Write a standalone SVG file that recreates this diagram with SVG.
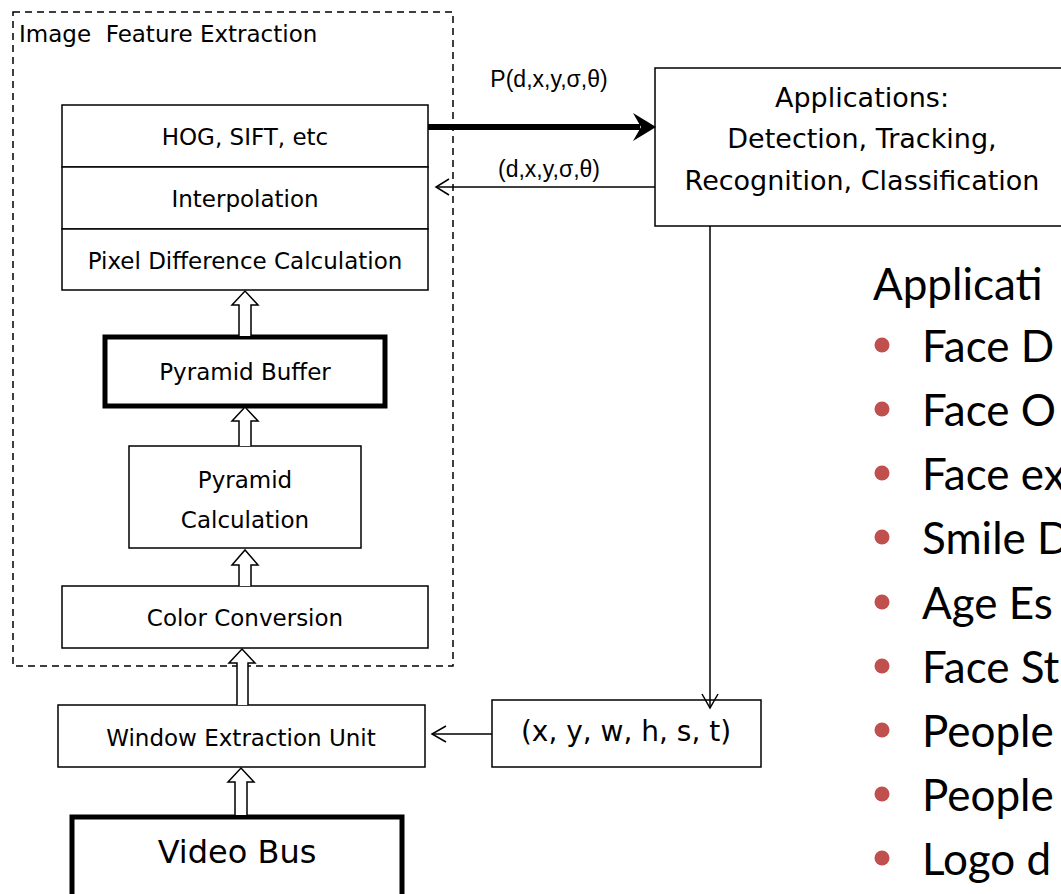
<svg xmlns="http://www.w3.org/2000/svg" width="1061" height="894" viewBox="0 0 1061 894">
<style>
.box{fill:#fff;stroke:#000;stroke-width:1.5}
.thick{fill:#fff;stroke:#000;stroke-width:5}
.lbl{font-family:"DejaVu Sans",sans-serif;font-size:23px;fill:#000;text-anchor:middle}
.big{font-family:"DejaVu Sans",sans-serif;font-size:27px;fill:#000;text-anchor:middle}
.ar{font-family:"Liberation Sans",Arial,sans-serif;font-size:23px;fill:#000;text-anchor:middle}
.hol{fill:#fff;stroke:#000;stroke-width:1.5;stroke-linejoin:miter}
.ln{stroke:#000;stroke-width:1.5;fill:none}
.lst{font-family:Lato,"Open Sans",sans-serif;font-size:44px;fill:#000}
.bul{fill:#C0504D}
</style>
<rect width="1061" height="894" fill="#fff"/>
<g id="feature-extraction-group">
<rect x="13" y="12" width="440" height="654" fill="none" stroke="#000" stroke-width="1.5" stroke-dasharray="7,5"/>
<text x="19" y="42" font-family="DejaVu Sans,sans-serif" font-size="23" fill="#000" xml:space="preserve">Image  Feature Extraction</text>
</g>
<g id="hog">
<rect class="box" x="62" y="105" width="366" height="62"/>
<text class="lbl" x="245" y="145">HOG, SIFT, etc</text>
</g>
<g id="interpolation">
<rect class="box" x="62" y="167" width="366" height="62"/>
<text class="lbl" x="245" y="207">Interpolation</text>
</g>
<g id="pixel-diff">
<rect class="box" x="62" y="229" width="366" height="61"/>
<text class="lbl" x="245" y="269">Pixel Difference Calculation</text>
</g>
<g id="pyramid-buffer">
<rect class="thick" x="105" y="337" width="280" height="69"/>
<text class="lbl" x="245" y="380">Pyramid Buffer</text>
</g>
<g id="pyramid-calc">
<rect class="box" x="129" y="446" width="232" height="102"/>
<text class="lbl" x="245" y="488">Pyramid</text>
<text class="lbl" x="245" y="528">Calculation</text>
</g>
<g id="color-conversion">
<rect class="box" x="62" y="586" width="366" height="62"/>
<text class="lbl" x="245" y="626">Color Conversion</text>
</g>
<g id="window-extraction">
<rect class="box" x="58" y="705" width="367" height="62"/>
<text class="lbl" x="241" y="746">Window Extraction Unit</text>
</g>
<g id="video-bus">
<rect class="thick" x="72" y="817" width="330" height="90"/>
<text x="237" y="863" font-family="DejaVu Sans,sans-serif" font-size="32" fill="#000" text-anchor="middle">Video Bus</text>
</g>
<g id="applications">
<rect class="box" x="655" y="68" width="420" height="158"/>
<text class="big" x="862" y="107">Applications:</text>
<text class="big" x="862" y="148">Detection, Tracking,</text>
<text class="big" x="862" y="190">Recognition, Classification</text>
</g>
<g id="window-params">
<rect class="box" x="492" y="700" width="269" height="67"/>
<text x="626" y="741" font-family="DejaVu Sans,sans-serif" font-size="28" fill="#000" text-anchor="middle">(x, y, w, h, s, t)</text>
</g>
<g id="connectors">
<path class="hol" d="M239,336 L239,305 L232,305 L245,291 L258,305 L251,305 L251,336"/>
<path class="hol" d="M239,446 L239,421 L232,421 L245,407 L258,421 L251,421 L251,446"/>
<path class="hol" d="M239,586 L239,565 L232,565 L245,550 L258,565 L251,565 L251,586"/>
<path class="hol" d="M237,705 L237,663 L229,663 L242,649 L255,663 L248,663 L248,705"/>
<path class="hol" d="M235,815 L235,782 L228,782 L241,768 L254,782 L247,782 L247,815"/>
<line x1="428" y1="127" x2="640" y2="127" stroke="#000" stroke-width="6"/>
<path d="M656,127 L633,113 L641,127 L633,141 Z" fill="#000"/>
<text class="ar" x="549" y="87">P(d,x,y,σ,θ)</text>
<line class="ln" x1="655" y1="187" x2="436" y2="187"/>
<path class="ln" d="M449,179 L436,187 L449,195"/>
<text class="ar" x="549" y="177">(d,x,y,σ,θ)</text>
<line class="ln" x1="710" y1="226" x2="710" y2="708"/>
<path class="ln" d="M702,694 L710,708 L718,694"/>
<line class="ln" x1="492" y1="734" x2="432" y2="734"/>
<path class="ln" d="M446,726 L432,734 L446,742"/>
</g>
<g id="app-list">
<text class="lst" x="873" y="300">Applicati</text>
<circle class="bul" cx="882" cy="345" r="7.5"/><text class="lst" x="922" y="362">Face D</text>
<circle class="bul" cx="882" cy="409" r="7.5"/><text class="lst" x="922" y="426">Face O</text>
<circle class="bul" cx="882" cy="473" r="7.5"/><text class="lst" x="922" y="490">Face ex</text>
<circle class="bul" cx="882" cy="537" r="7.5"/><text class="lst" x="922" y="554">Smile D</text>
<circle class="bul" cx="882" cy="602" r="7.5"/><text class="lst" x="922" y="619">Age Es</text>
<circle class="bul" cx="882" cy="666" r="7.5"/><text class="lst" x="922" y="683">Face St</text>
<circle class="bul" cx="882" cy="730" r="7.5"/><text class="lst" x="922" y="747">People</text>
<circle class="bul" cx="882" cy="794" r="7.5"/><text class="lst" x="922" y="811">People</text>
<circle class="bul" cx="882" cy="858" r="7.5"/><text class="lst" x="922" y="875">Logo d</text>
</g>
</svg>
